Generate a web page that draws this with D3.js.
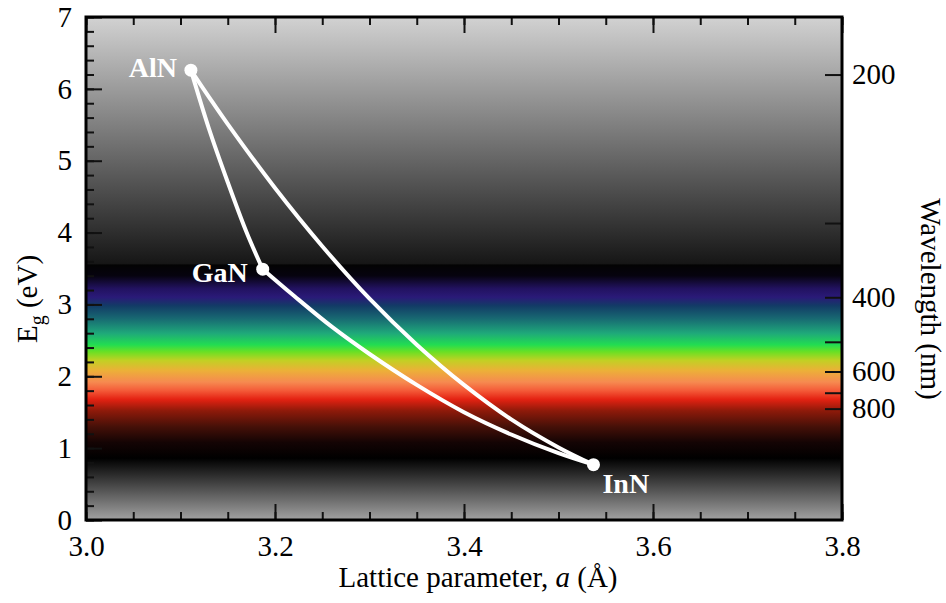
<!DOCTYPE html>
<html>
<head>
<meta charset="utf-8">
<script src="https://cdn.jsdelivr.net/npm/d3@7"></script>
<style>
  html, body { margin: 0; padding: 0; background: #fff; }
  svg { display: block; }
</style>
</head>
<body>
<svg id="chart" width="946" height="603"></svg>
<script>
// ---------- data ----------
const compounds = ["AlN", "GaN", "InN"];
const latticeA = [3.111, 3.187, 3.537];   // Å
const bandGap  = [6.26, 3.49, 0.77];      // eV

// bowing curves: [a, Eg]
const curveAlNGaN = [[3.111, 6.26], [3.130, 5.45], [3.150, 4.70], [3.170, 4.00], [3.187, 3.49]];
const curveGaNInN = [[3.187, 3.49], [3.220, 3.12], [3.260, 2.69], [3.300, 2.31], [3.350, 1.88],
                     [3.400, 1.50], [3.450, 1.19], [3.500, 0.93], [3.537, 0.77]];
const curveAlNInN = [[3.111, 6.26], [3.130, 5.89], [3.150, 5.51], [3.200, 4.62], [3.250, 3.81],
                     [3.300, 3.08], [3.350, 2.44], [3.400, 1.88], [3.450, 1.40], [3.500, 1.01],
                     [3.537, 0.77]];

const xTickLabels = [3.0, 3.2, 3.4, 3.6, 3.8];
const yTickLabels = [0, 1, 2, 3, 4, 5, 6, 7];
const waveTicks   = [200, 300, 400, 500, 600, 700, 800];
const waveLabels  = [200, 400, 600, 800];

// background spectrum stops [energy eV, colour]
const bgStops = [
  [7.00, "#d2d2d2"], [3.565, "#161616"], [3.55, "#030303"], [3.40, "#06030f"],
  [3.22, "#221260"], [3.10, "#2a1a78"], [2.98, "#123c66"], [2.80, "#186a72"],
  [2.60, "#1fa87a"], [2.44, "#22dc52"], [2.34, "#6ae024"], [2.22, "#c2d024"],
  [2.08, "#ecb038"], [1.92, "#f68a50"], [1.80, "#f45a38"], [1.68, "#e42212"],
  [1.52, "#8e1a0a"], [1.30, "#461008"], [1.08, "#140404"], [0.86, "#000000"],
  [0.00, "#a2a2a2"]
];

// ---------- layout ----------
const L = 86, R = 842, T = 17, B = 520;
const svg = d3.select("#chart");
const x = d3.scaleLinear().domain([3.0, 3.8]).range([L, R]);
const y = d3.scaleLinear().domain([0, 7]).range([B, T]);
const FS = 29;
const SERIF = '"Liberation Serif", "Times New Roman", serif';

// gradient
const defs = svg.append("defs");
const grad = defs.append("linearGradient").attr("id", "bg")
  .attr("gradientUnits", "userSpaceOnUse")
  .attr("x1", 0).attr("x2", 0).attr("y1", y(7)).attr("y2", y(0));
grad.selectAll("stop").data(bgStops).join("stop")
  .attr("offset", d => (7 - d[0]) / 7)
  .attr("stop-color", d => d[1]);

svg.append("rect").attr("x", L).attr("y", T).attr("width", R - L).attr("height", B - T)
  .attr("fill", "url(#bg)");

// ---------- axes ----------
function styleAxis(g, showLabels) {
  g.attr("font-family", null);
  g.select(".domain").remove();
  g.selectAll(".tick line").attr("stroke", "#111").attr("stroke-width", 2);
  g.selectAll(".tick text").attr("font-size", FS).attr("fill", "#000");
  if (!showLabels) g.selectAll(".tick text").remove();
}

// left
svg.append("g").attr("transform", `translate(${L},0)`)
  .call(d3.axisLeft(y).tickValues(d3.range(0, 7.001, 0.2)).tickSize(-8).tickFormat(""))
  .call(g => styleAxis(g, false));
svg.append("g").attr("transform", `translate(${L},0)`)
  .call(d3.axisLeft(y).tickValues(yTickLabels).tickSize(-16).tickPadding(14).tickFormat(d3.format("d")))
  .call(g => styleAxis(g, true));

// bottom
svg.append("g").attr("transform", `translate(0,${B})`)
  .call(d3.axisBottom(x).tickValues(d3.range(3.0, 3.8001, 0.05)).tickSize(-8).tickFormat(""))
  .call(g => styleAxis(g, false));
svg.append("g").attr("transform", `translate(0,${B})`)
  .call(d3.axisBottom(x).tickValues(xTickLabels).tickSize(-16).tickPadding(15).tickFormat(d3.format(".1f")))
  .call(g => styleAxis(g, true));

// top
svg.append("g").attr("transform", `translate(0,${T})`)
  .call(d3.axisTop(x).tickValues(d3.range(3.0, 3.8001, 0.05)).tickSize(-8).tickFormat(""))
  .call(g => styleAxis(g, false));
svg.append("g").attr("transform", `translate(0,${T})`)
  .call(d3.axisTop(x).tickValues(xTickLabels).tickSize(-16).tickFormat(""))
  .call(g => styleAxis(g, false));

// right: wavelength
svg.append("g").attr("transform", `translate(${R},0)`)
  .call(d3.axisRight(y).tickValues(waveTicks.map(l => 1239.84 / l)).tickSize(-17).tickPadding(10)
    .tickFormat(e => { const l = Math.round(1239.84 / e); return waveLabels.includes(l) ? l : ""; }))
  .call(g => styleAxis(g, true));

// frame
svg.append("rect").attr("x", L).attr("y", T).attr("width", R - L).attr("height", B - T)
  .attr("fill", "none").attr("stroke", "#000").attr("stroke-width", 3);

// ---------- curves ----------
const line = d3.line().x(d => x(d[0])).y(d => y(d[1])).curve(d3.curveCatmullRom.alpha(0.5));
[curveAlNGaN, curveGaNInN, curveAlNInN].forEach(c => {
  svg.append("path").datum(c).attr("d", line)
    .attr("fill", "none").attr("stroke", "#fff").attr("stroke-width", 4)
    .attr("stroke-linejoin", "round").attr("stroke-linecap", "round");
});

const pts = compounds.map((n, i) => ({ name: n, a: latticeA[i], e: bandGap[i] }));
svg.selectAll("circle.pt").data(pts).join("circle").attr("class", "pt")
  .attr("cx", d => x(d.a)).attr("cy", d => y(d.e)).attr("r", 6.5).attr("fill", "#fff");

const labelOff = { AlN: [-14, 7, "end"], GaN: [-15, 13, "end"], InN: [9, 28, "start"] };
svg.selectAll("text.lbl").data(pts).join("text").attr("class", "lbl")
  .attr("x", d => x(d.a) + labelOff[d.name][0])
  .attr("y", d => y(d.e) + labelOff[d.name][1])
  .attr("text-anchor", d => labelOff[d.name][2])
  .attr("font-size", 28).attr("font-weight", "bold").attr("fill", "#fff")
  .text(d => d.name);

// ---------- titles ----------
const xt = svg.append("text").attr("x", 478).attr("y", 587).attr("text-anchor", "middle")
  .attr("font-size", FS).attr("fill", "#000");
xt.append("tspan").text("Lattice parameter, ");
xt.append("tspan").attr("font-style", "italic").text("a");
xt.append("tspan").text(" (Å)");

const yt = svg.append("text").attr("transform", "translate(37,299) rotate(-90)")
  .attr("text-anchor", "middle").attr("font-size", FS).attr("fill", "#000");
yt.append("tspan").text("E");
yt.append("tspan").attr("font-size", 20).attr("dy", 7).text("g");
yt.append("tspan").attr("dy", -7).text(" (eV)");

svg.append("text").attr("transform", "translate(921,299) rotate(90)")
  .attr("text-anchor", "middle").attr("font-size", FS).attr("fill", "#000")
  .text("Wavelength (nm)");

// serif font on every text
svg.selectAll("text").style("font-family", SERIF);
</script>
</body>
</html>
